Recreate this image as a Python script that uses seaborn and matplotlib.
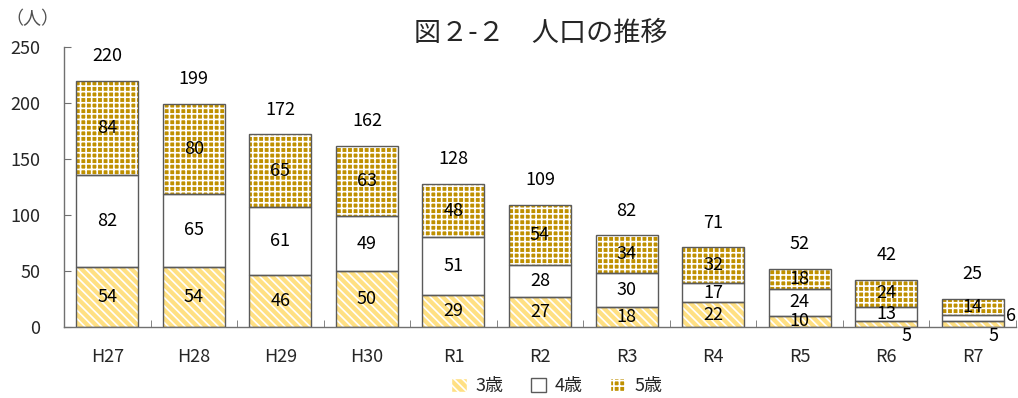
import numpy as np
import pandas as pd
import matplotlib
matplotlib.use('Agg')
import matplotlib.pyplot as plt
import matplotlib.patches as mpatches
import seaborn as sns

# データ
years = ['H27', 'H28', 'H29', 'H30', 'R1', 'R2', 'R3', 'R4', 'R5', 'R6', 'R7']
age3 = [54, 54, 46, 50, 29, 27, 18, 22, 10, 5, 5]
age4 = [82, 65, 61, 49, 51, 28, 30, 17, 24, 13, 6]
age5 = [84, 80, 65, 63, 48, 54, 34, 32, 18, 24, 14]
totals = [220, 199, 172, 162, 128, 109, 82, 71, 52, 42, 25]

df = pd.DataFrame({'年': years, '3歳': age3, '4歳': age4, '5歳': age5})

sns.set_style('white')
plt.rcParams['font.family'] = ['Noto Sans CJK JP', 'DejaVu Sans']
plt.rcParams['hatch.linewidth'] = 1.2

# 系列ごとの塗り（face, hatch, hatchの色）
styles = {
    '3歳': ('#FFE083', '\\\\\\\\', '#FFFFFF'),
    '4歳': ('white', None, '#FFFFFF'),
    '5歳': ('#BF9000', '+++', '#FFFFFF'),
}
edge = '#5A5A5A'

fig = plt.figure(figsize=(10.18, 3.98), dpi=100)
ax = fig.add_axes([0.0629, 0.1784, 0.9351, 0.7035])

bottom = np.zeros(len(years))
for col in ['3歳', '4歳', '5歳']:
    face, hatch, hcol = styles[col]
    n_before = len(ax.patches)
    sns.barplot(data=df, x='年', y=col, ax=ax, color=face, width=0.716,
                bottom=bottom.copy(), saturation=1, linewidth=0)
    for p in ax.patches[n_before:]:
        p.set_facecolor(face)
        p.set_edgecolor(hcol)
        p.set_linewidth(0)
        if hatch:
            p.set_hatch(hatch)
        ax.add_patch(mpatches.Rectangle(p.get_xy(), p.get_width(), p.get_height(),
                                        fill=False, edgecolor=edge, lw=1.0, zorder=3))
    bottom = bottom + df[col].to_numpy()

# 区分内ラベルと合計
fs = 13
for i in range(len(years)):
    b = 0
    for col in ['3歳', '4歳', '5歳']:
        v = df[col].iloc[i]
        x, y = i, b + v / 2
        if col == '3歳' and v <= 5:
            x, y = i + 0.24, -8
        elif col == '4歳' and v <= 6:
            x, y = i + 0.44, b + v / 2 + 2
        ax.text(x, y, str(v), ha='center', va='center', fontsize=fs, color='black',
                zorder=5, clip_on=False)
        b += v
    ax.text(i, totals[i] + 22, str(totals[i]), ha='center', va='center',
            fontsize=fs, color='black')

ax.set_xlim(-0.5, len(years) - 0.5)
ax.set_ylim(0, 250)
ax.set_yticks([0, 50, 100, 150, 200, 250])
ax.set_xlabel('')
ax.set_ylabel('')
ax.set_xticks(np.arange(len(years)))
ax.set_xticklabels(years, fontsize=fs)
ax.tick_params(axis='x', length=0, pad=15)
ax.set_xticks(np.arange(len(years) + 1) - 0.5, minor=True)
ax.tick_params(axis='x', which='minor', length=5, color='#707070', direction='in', bottom=True)
ax.tick_params(axis='y', length=5, color='#707070', direction='in', left=True,
               labelsize=fs, pad=17)
for s in ['top', 'right']:
    ax.spines[s].set_visible(False)
for s in ['left', 'bottom']:
    ax.spines[s].set_color('#707070')
    ax.spines[s].set_linewidth(1.0)

fig.text(0.531, 0.915, '図２-２　人口の推移', ha='center', va='center', fontsize=19.5)
fig.text(0.005, 0.953, '（人）', ha='left', va='center', fontsize=13, color='#505050')

handles = []
for col in ['3歳', '4歳', '5歳']:
    face, hatch, hcol = styles[col]
    ec = edge if col == '4歳' else hcol
    handles.append(mpatches.Patch(facecolor=face, edgecolor=ec, hatch=hatch, label=col))
fig.legend(handles=handles, loc='center', bbox_to_anchor=(0.547, 0.03), ncol=3,
           frameon=False, fontsize=13, handlelength=0.85, handleheight=0.85,
           handletextpad=0.5, columnspacing=1.5, borderpad=0)

fig.savefig('out.png', dpi=100)
